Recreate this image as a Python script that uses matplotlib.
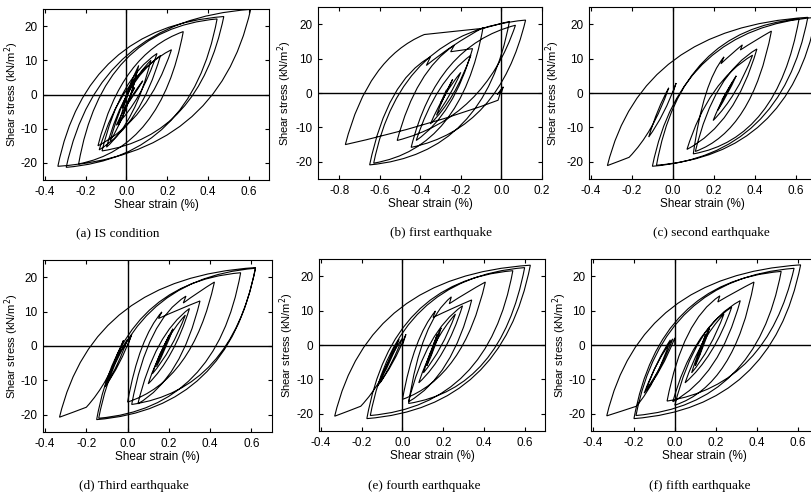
import matplotlib
matplotlib.use("Agg")
import matplotlib.pyplot as plt
import numpy as np
from matplotlib.path import Path
from matplotlib.patches import PathPatch

# reversal points (shear strain %, shear stress kN/m2), in load order
is_loop = [(0.00, 0.0), (0.03, 4.5), (-0.02, -4.0), (0.06, 8.5), (-0.04, -9.0), (0.05, 6.0),
           (-0.08, -13.5), (0.12, 10.0), (-0.098, -15.4), (0.167, 11.4), (-0.134, -16.2),
           (0.221, 13.1), (-0.14, -15.0), (0.279, 18.4), (-0.235, -20.3), (0.445, 22.1),
           (-0.296, -21.3), (0.61, 24.9), (-0.337, -21.0), (0.478, 22.8), (-0.12, -16.5),
           (0.15, 12.0), (-0.05, -9.0), (0.08, 4.0), (-0.01, -4.0), (0.04, 2.0), (0.02, 0.0)]

eq1_loop = [(0.0, 0.0), (0.01, 1.8), (-0.02, -0.5), (0.0, 1.0), (-0.016, -2.1), (-0.77, -15.0),
            (-0.38, 17.0), (-0.09, 18.8), (0.04, 20.8), (-0.65, -20.9), (-0.35, 10.5),
            (-0.37, 8.0), (-0.09, 19.0), (-0.63, -20.4), (0.12, 21.2), (-0.445, -15.8),
            (0.07, 19.7), (-0.514, -13.8), (-0.232, 13.9), (-0.25, 12.0), (-0.142, 12.9),
            (-0.42, -13.8), (-0.15, 11.0), (-0.35, -9.0), (-0.2, 6.0), (-0.32, -6.5),
            (-0.24, 4.0), (-0.3, -3.0), (-0.27, 1.0)]

eq2_loop = [(0.0, 0.0), (0.016, 2.9), (-0.118, -12.8), (-0.02, 1.5), (-0.214, -18.7),
            (-0.32, -21.1), (0.66, 22.0), (-0.10, -21.3), (0.70, 22.0), (-0.08, -21.0),
            (0.617, 21.5), (0.10, -17.7), (0.25, 10.5), (0.235, 8.5), (0.34, 14.0),
            (0.33, 12.5), (0.482, 18.0), (0.11, -17.0), (0.411, 12.8), (0.069, -16.4),
            (0.39, 11.0), (0.197, -8.0), (0.31, 5.0), (0.22, -5.0), (0.29, 3.0), (0.24, -2.0)]

eq3_loop = [(0.0, 0.0), (0.02, 3.4), (-0.11, -11.9), (0.0, 2.0), (-0.10, -11.0), (-0.02, 1.6),
            (-0.20, -17.8), (-0.33, -20.7), (0.62, 22.8), (-0.15, -21.4), (0.548, 21.3),
            (-0.14, -21.0), (0.62, 22.6), (0.02, -17.0), (0.283, 14.5), (0.27, 12.5),
            (0.421, 18.6), (0.0, -16.3), (0.166, 9.9), (0.15, 8.0), (0.351, 13.1),
            (0.05, -16.8), (0.30, 10.9), (0.10, -11.0), (0.28, 9.0), (0.12, -8.1),
            (0.22, 5.0), (0.14, -6.0), (0.20, 3.0), (0.16, -3.0)]

eq4_loop = [(0.0, 0.0), (0.017, 3.1), (-0.122, -11.9), (0.0, 2.0), (-0.11, -11.0),
            (-0.017, 1.65), (-0.205, -17.8), (-0.333, -20.7), (0.628, 23.2), (-0.175, -21.4),
            (0.542, 21.6), (-0.158, -20.5), (0.60, 22.5), (0.03, -17.0), (0.24, 14.0),
            (0.23, 12.0), (0.407, 18.3), (0.0, -15.8), (0.162, 9.9), (0.15, 8.0),
            (0.34, 13.1), (0.03, -16.5), (0.295, 11.4), (0.08, -11.0), (0.26, 9.0),
            (0.103, -8.1), (0.19, 5.0), (0.12, -6.0), (0.17, 3.0), (0.14, -3.0)]

eq5_loop = [(0.0, 0.0), (0.0, 2.1), (-0.15, -14.0), (-0.01, 1.8), (-0.14, -13.0),
            (-0.022, 1.5), (-0.188, -17.8), (-0.333, -20.6), (0.615, 23.3), (-0.20, -21.4),
            (0.52, 21.4), (-0.19, -20.5), (0.583, 22.3), (-0.038, -16.3), (0.22, 14.3),
            (0.21, 12.5), (0.387, 18.3), (0.0, -17.5), (0.32, 12.9), (-0.01, -16.5),
            (0.278, 11.0), (0.05, -11.0), (0.24, 9.0), (0.082, -8.1), (0.17, 5.0),
            (0.10, -6.0), (0.15, 3.0), (0.12, -3.0)]

captions = ["(a) IS condition", "(b) first earthquake", "(c) second earthquake",
            "(d) Third earthquake", "(e) fourth earthquake", "(f) fifth earthquake"]
ticks_main = [-0.4, -0.2, 0.0, 0.2, 0.4, 0.6]
ticks_eq1 = [-0.8, -0.6, -0.4, -0.2, 0.0, 0.2]
stress_ticks = [-20, -10, 0, 10, 20]

W, H = 812, 493
plt.rcParams["font.family"] = ["Liberation Sans", "DejaVu Sans"]
plt.rcParams["axes.unicode_minus"] = False


def hysteresis_path(pts):
    """ Each branch leaves its reversal point stiff and softens toward the next one. """
    verts = [pts[0]]
    codes = [Path.MOVETO]
    for (x0, y0), (x1, y1) in zip(pts[:-1], pts[1:]):
        dx, dy = x1 - x0, y1 - y0
        k = min(abs(dy) / 42.0, 1.0) ** 1.5
        a, b = 0.5 - 0.33 * k, 0.5 + 0.43 * k
        verts += [(x0 + a * dx, y0 + b * dy), (x1, y1)]
        codes += [Path.CURVE3, Path.CURVE3]
    return Path(verts, codes)


# panel boxes in pixels: left, bottom, width, height
boxes = [(43, 180, 226, 171), (318, 179, 224, 172), (589, 179, 227, 172),
         (43, 432, 229, 172), (319, 431, 226, 172), (591, 431, 227, 172)]
cap_pos = [(118, 233), (441, 233), (711, 233), (134, 486), (424, 486), (700, 486)]
ylab_x = [-0.14, -0.15, -0.158, -0.138, -0.142, -0.14]
loops = [is_loop, eq1_loop, eq2_loop, eq3_loop, eq4_loop, eq5_loop]

fig = plt.figure(figsize=(W / 100, H / 100), dpi=100)

for i, loop in enumerate(loops):
    l, b, w, h = boxes[i]
    ax = fig.add_axes([l / W, 1 - b / H, w / W, h / H])
    pts = np.array(loop)
    ax.add_patch(PathPatch(hysteresis_path(pts), fill=False, lw=0.8, ec="black"))
    ax.axhline(0, color="black", lw=1.0)
    ax.axvline(0, color="black", lw=1.0)

    if i == 1:
        ax.set_xlim(-0.905, 0.201)
        xt = ticks_eq1
    else:
        ax.set_xlim(-0.41, 0.70)
        xt = ticks_main
    ax.set_xticks(xt)
    ax.set_xticklabels(["%.1f" % t for t in xt])
    ax.set_ylim(-25, 25)
    ax.set_yticks(stress_ticks)

    ax.tick_params(direction="in", length=3, width=0.8, top=True, right=True,
                   labelsize=8.5, pad=4)
    for s in ax.spines.values():
        s.set_linewidth(0.8)

    ax.set_xlabel("Shear strain (%)", fontsize=8.5)
    ax.xaxis.label.set_va("center")
    ax.xaxis.set_label_coords(0.5, -0.145)
    ax.set_ylabel(r"Shear stress (kN/m$^2$)", fontsize=8)
    ax.yaxis.label.set_va("center")
    ax.yaxis.set_label_coords(ylab_x[i], 0.5)

    cx, cy = cap_pos[i]
    fig.text(cx / W, 1 - cy / H, captions[i], ha="center", va="center",
             family="Liberation Serif", fontsize=9.5)

plt.savefig("out.png", dpi=100)
plt.close()
